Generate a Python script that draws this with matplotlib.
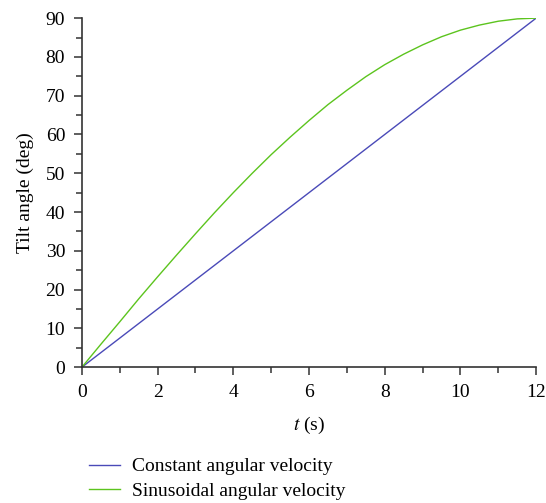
import matplotlib.pyplot as plt
from matplotlib.ticker import MultipleLocator
from matplotlib.lines import Line2D

plt.rcParams['font.family'] = ['Liberation Serif', 'DejaVu Serif']
plt.rcParams['mathtext.fontset'] = 'stix'

# time (s) and tilt angle (deg)
t = [0, 0.5, 1, 1.5, 2, 2.5, 3, 3.5, 4, 4.5, 5, 5.5, 6,
     6.5, 7, 7.5, 8, 8.5, 9, 9.5, 10, 10.5, 11, 11.5, 12]
constant = [0, 3.75, 7.5, 11.25, 15, 18.75, 22.5, 26.25, 30, 33.75, 37.5, 41.25, 45,
            48.75, 52.5, 56.25, 60, 63.75, 67.5, 71.25, 75, 78.75, 82.5, 86.25, 90]
sinusoidal = [0, 5.9, 11.7, 17.6, 23.3, 28.9, 34.4, 39.8, 45, 50.0, 54.8, 59.3, 63.6,
              67.7, 71.4, 74.9, 78.0, 80.7, 83.1, 85.2, 86.9, 88.2, 89.2, 89.8, 90]

fig = plt.figure(figsize=(5.46, 5.03), dpi=100)
ax = fig.add_axes([0.150, 0.270, 0.832, 0.694])

blue = "#4a4ab8"
green = "#5cc41e"
ax.plot(t, constant, color=blue, lw=1)
ax.plot(t, sinusoidal, color=green, lw=1)

ax.set_xlim(0, 12)
ax.set_ylim(0, 90)
ax.xaxis.set_major_locator(MultipleLocator(2))
ax.xaxis.set_minor_locator(MultipleLocator(1))
ax.yaxis.set_major_locator(MultipleLocator(10))
ax.yaxis.set_minor_locator(MultipleLocator(5))
ax.spines['top'].set_visible(False)
ax.spines['right'].set_visible(False)
for s in ['left', 'bottom']:
    ax.spines[s].set_color("#333333")
    ax.spines[s].set_linewidth(1.2)
ax.tick_params(which='major', length=6, width=1.1, color="#333333", labelsize=14, pad=6)
ax.tick_params(which='minor', length=4, width=1.1, color="#333333")

ax.set_xlabel(r"$t$ (s)", fontsize=14, labelpad=10)
ax.set_ylabel("Tilt angle (deg)", fontsize=14, labelpad=8)

handles = [Line2D([], [], color=blue, lw=1), Line2D([], [], color=green, lw=1)]
fig.legend(handles, ["Constant angular velocity", "Sinusoidal angular velocity"],
           loc='upper left', bbox_to_anchor=(0.163, 0.090), frameon=False,
           fontsize=14, handlelength=1.6, handletextpad=0.6, labelspacing=0.35,
           borderaxespad=0, borderpad=0)

fig.savefig("out.png", dpi=100)
